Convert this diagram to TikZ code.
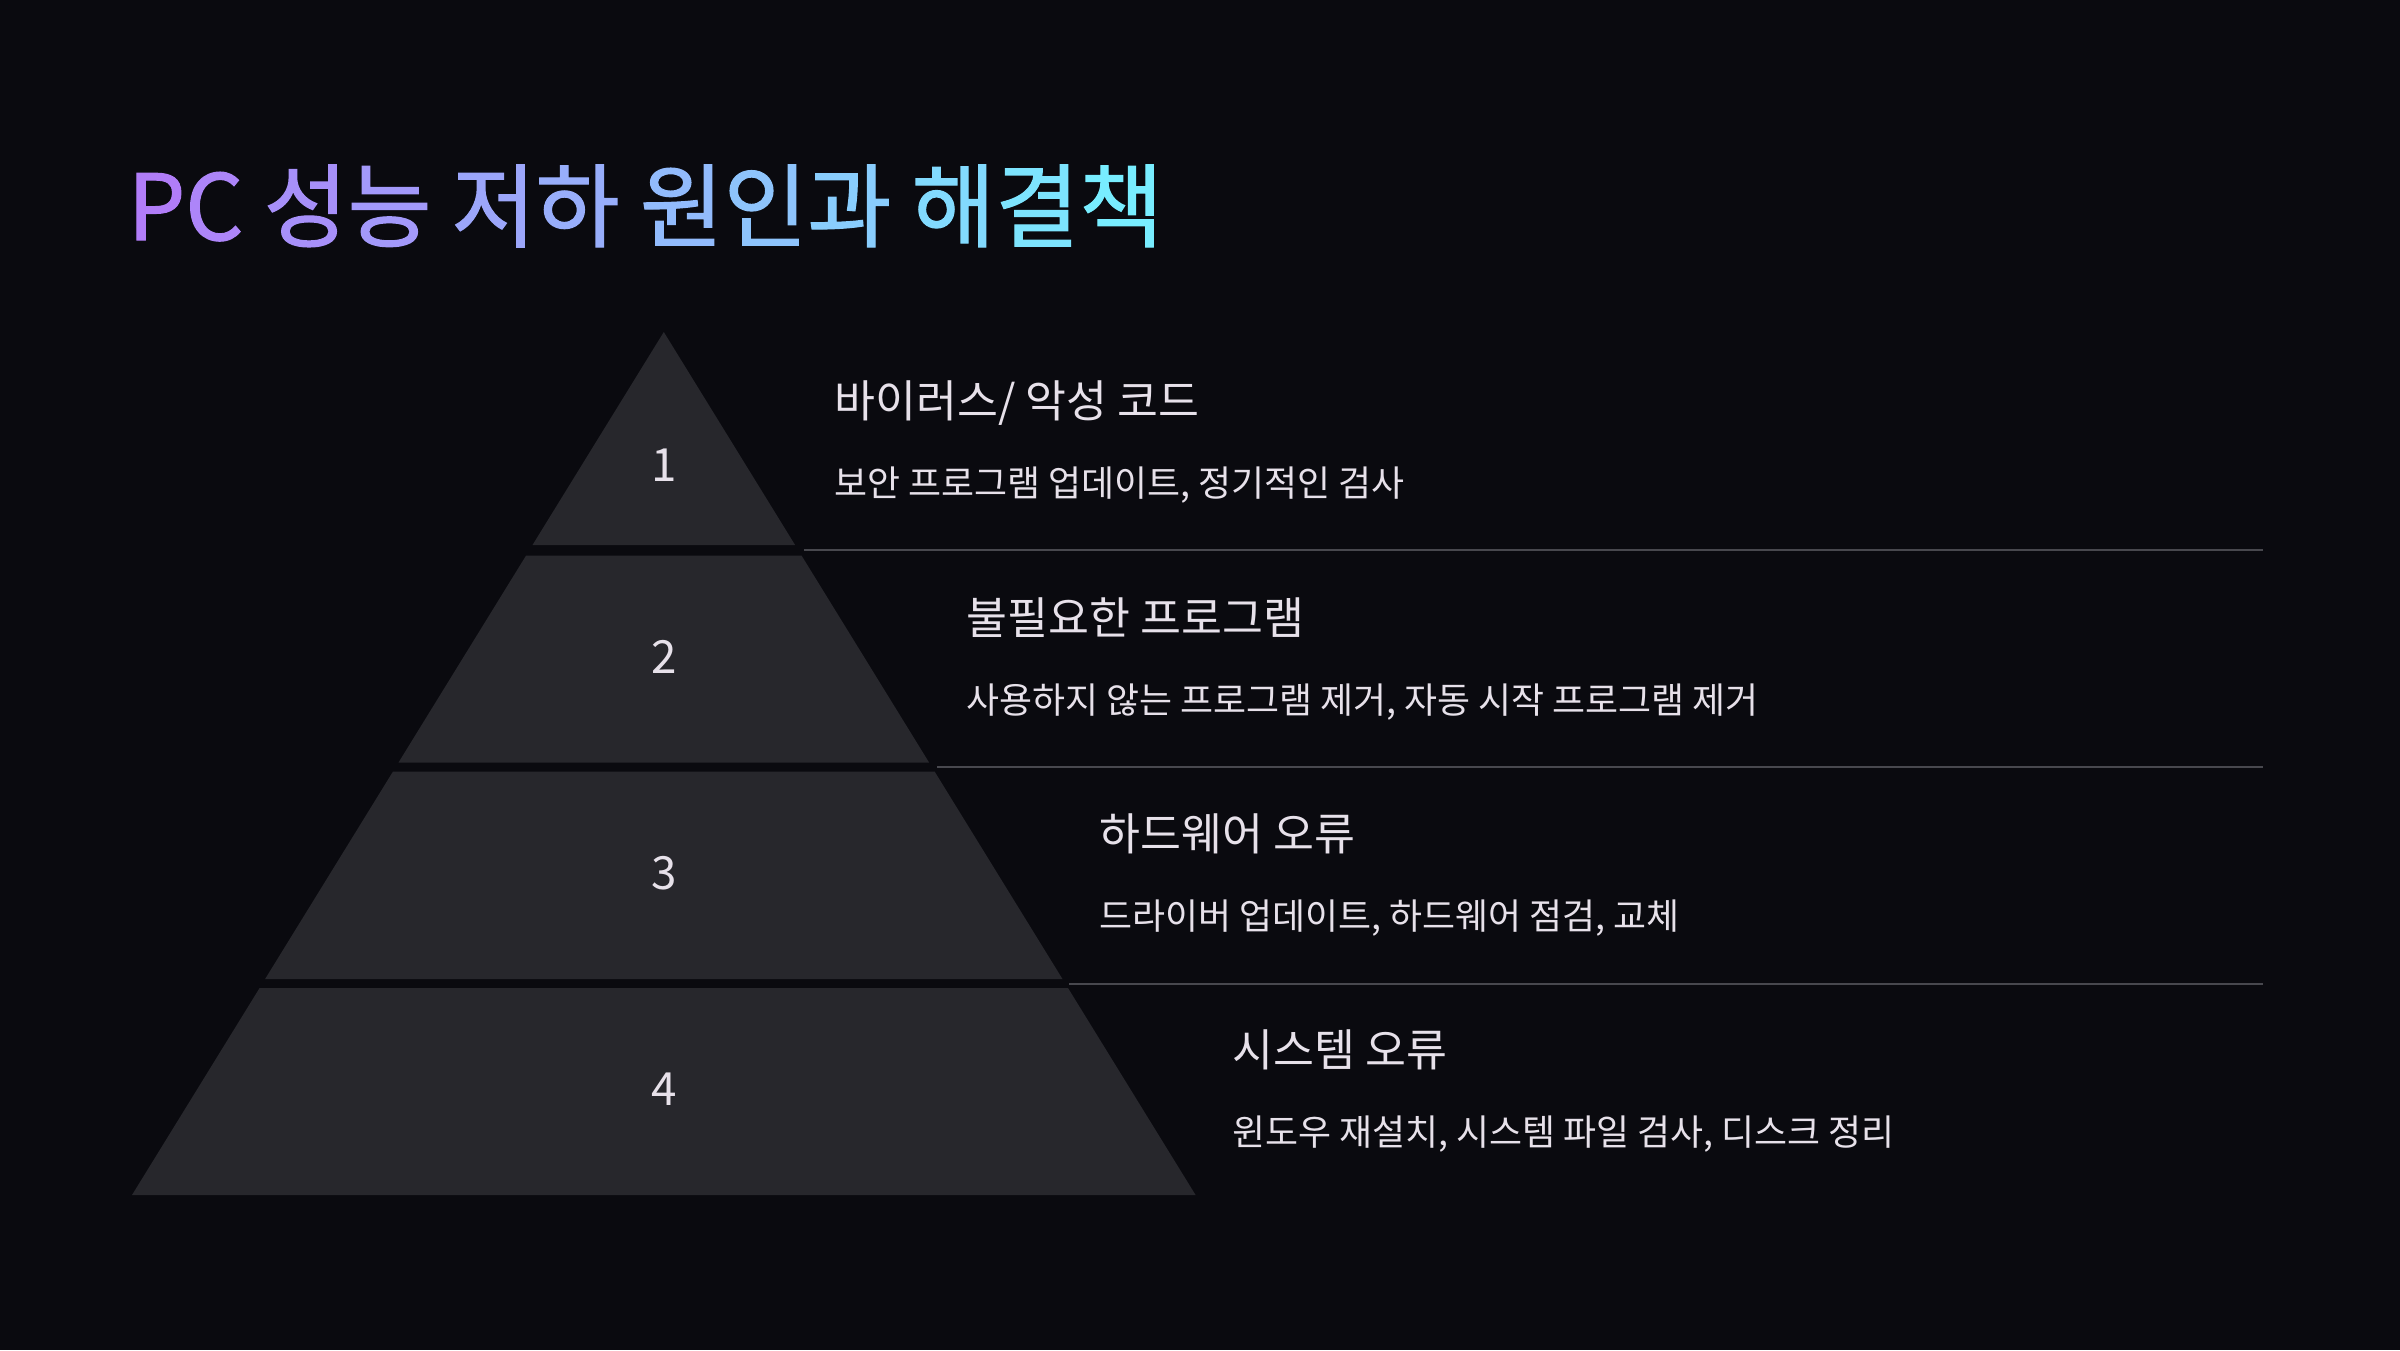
\documentclass[tikz,border=0pt]{standalone}
\usepackage{fontspec}
\setmainfont{Noto Sans CJK KR}
\newfontfamily\titlefont{Noto Sans CJK KR}[FakeBold=1.3]
\definecolor{bgc}{HTML}{0A0A0F}
\definecolor{tierc}{HTML}{27272C}
\definecolor{linec}{HTML}{48484E}
\definecolor{txtc}{HTML}{E7E1EA}
\definecolor{gStart}{HTML}{B27BF8}
\definecolor{gEnd}{HTML}{76F2FF}
\newcommand{\gcol}[2]{\textcolor{gEnd!#1!gStart}{#2}}
\begin{document}
\begin{tikzpicture}[x=0.01cm,y=-0.01cm,
  tier/.style={fill=tierc},
  sepline/.style={draw=linec,line width=0.57pt},
  headtxt/.style={anchor=base west,inner sep=0pt,text=txtc,font=\fontsize{12.65pt}{15pt}\selectfont},
  subtxt/.style={anchor=base west,inner sep=0pt,text=txtc,font=\fontsize{10.2pt}{12pt}\selectfont},
  numtxt/.style={anchor=center,inner sep=0pt,text=txtc,font=\fontsize{13pt}{15pt}\selectfont}]
\fill[bgc] (0,0) rectangle (2400,1350);
\useasboundingbox (0,0) rectangle (2400,1350);

% title
\node[anchor=base west,inner sep=0pt,font=\titlefont\fontsize{25.9pt}{30pt}\selectfont] (title) at (127,240)
 {\gcol{2}{P}\gcol{8}{C} \gcol{18}{성}\gcol{25}{능} \gcol{36}{저}\gcol{43}{하} \gcol{54}{원}\gcol{61}{인}\gcol{69}{과} \gcol{80}{해}\gcol{88}{결}\gcol{96}{책}};

% pyramid tiers
\fill[tier] (663.8,332) -- (795.1,545) -- (532.5,545) -- cycle;
\fill[tier] (526.1,555.5) -- (801.5,555.5) -- (929.1,762.5) -- (398.5,762.5) -- cycle;
\fill[tier] (393.0,771.5) -- (934.6,771.5) -- (1062.5,979) -- (265.1,979) -- cycle;
\fill[tier] (259.6,988) -- (1068.0,988) -- (1195.6,1195) -- (132.0,1195) -- cycle;

% numbers
\node[numtxt] (n1) at (663.8,465) {1};
\node[numtxt] (n2) at (663.8,657) {2};
\node[numtxt] (n3) at (663.8,873) {3};
\node[numtxt] (n4) at (663.8,1089) {4};

% separator lines
\coordinate (l1a) at (804,550);  \coordinate (l1b) at (2263,550);
\coordinate (l2a) at (937,767);  \coordinate (l2b) at (2263,767);
\coordinate (l3a) at (1069,983.5); \coordinate (l3b) at (2263,983.5);
\draw[sepline] (l1a) -- (l1b);
\draw[sepline] (l2a) -- (l2b);
\draw[sepline] (l3a) -- (l3b);

% texts
\node[headtxt] (h1) at (834,417) {바이러스/ 악성 코드};
\node[subtxt]  (s1) at (834,496) {보안 프로그램 업데이트, 정기적인 검사};
\node[headtxt] (h2) at (966,634) {불필요한 프로그램};
\node[subtxt]  (s2) at (966,713) {사용하지 않는 프로그램 제거, 자동 시작 프로그램 제거};
\node[headtxt] (h3) at (1099,850) {하드웨어 오류};
\node[subtxt]  (s3) at (1099,929) {드라이버 업데이트, 하드웨어 점검, 교체};
\node[headtxt] (h4) at (1232,1066) {시스템 오류};
\node[subtxt]  (s4) at (1232,1145) {윈도우 재설치, 시스템 파일 검사, 디스크 정리};
\end{tikzpicture}
\end{document}
